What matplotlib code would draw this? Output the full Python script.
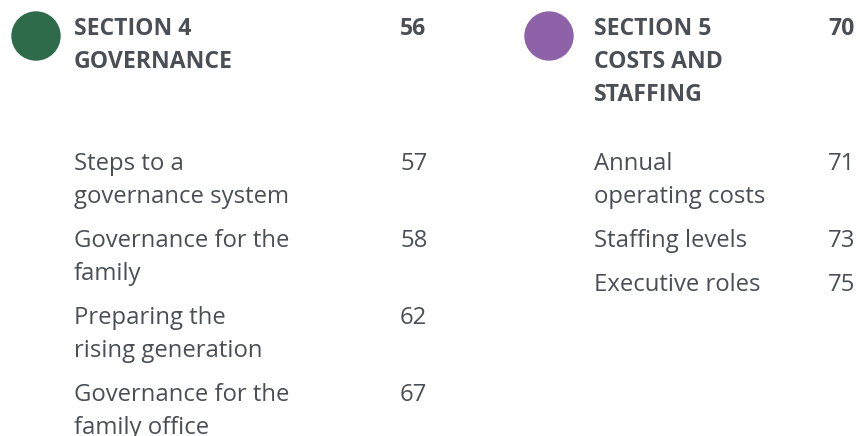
import matplotlib.pyplot as plt
from matplotlib.patches import Circle

# contents data
sections = ["SECTION 4\nGOVERNANCE", "SECTION 5\nCOSTS AND\nSTAFFING"]
section_pages = ["56", "70"]
section_colors = ["#2e6b4a", "#8e62a9"]

sec4_items = ["Steps to a\ngovernance system", "Governance for the\nfamily",
              "Preparing the\nrising generation", "Governance for the\nfamily office"]
sec4_pages = ["57", "58", "62", "67"]

sec5_items = ["Annual\noperating costs", "Staffing levels", "Executive roles"]
sec5_pages = ["71", "73", "75"]

txt_col = "#4a4f55"
plt.rcParams['font.family'] = ['Open Sans', 'DejaVu Sans']

fig = plt.figure(figsize=(8.6, 4.36), dpi=100)
ax = fig.add_axes([0, 0, 1, 1])
ax.set_xlim(0, 860)
ax.set_ylim(436, 0)
ax.axis('off')

# pixel layout
circle_x = [36, 549]
text_x = [74, 594]
num_x = [400, 828]
line_h = 33
item_gap = 44

columns = [(sec4_items, sec4_pages), (sec5_items, sec5_pages)]
for k in range(2):
    ax.add_patch(Circle((circle_x[k], 36), 24, color=section_colors[k]))
    for j, line in enumerate(sections[k].split("\n")):
        ax.text(text_x[k], 35 + j * line_h, line, fontsize=16.6, fontweight='bold',
                color=txt_col, va='baseline', ha='left')
    ax.text(num_x[k], 35, section_pages[k], fontsize=16.6, fontweight='bold',
            color=txt_col, va='baseline', ha='left')

    items, pages = columns[k]
    y = 170
    for item, page in zip(items, pages):
        ax.text(num_x[k], y, page, fontsize=17.2, color=txt_col, va='baseline', ha='left')
        lines = item.split("\n")
        for j, line in enumerate(lines):
            ax.text(text_x[k], y + j * line_h, line, fontsize=17.2, color=txt_col,
                    va='baseline', ha='left')
        y += (len(lines) - 1) * line_h + item_gap

fig.savefig("out.png", dpi=100)
